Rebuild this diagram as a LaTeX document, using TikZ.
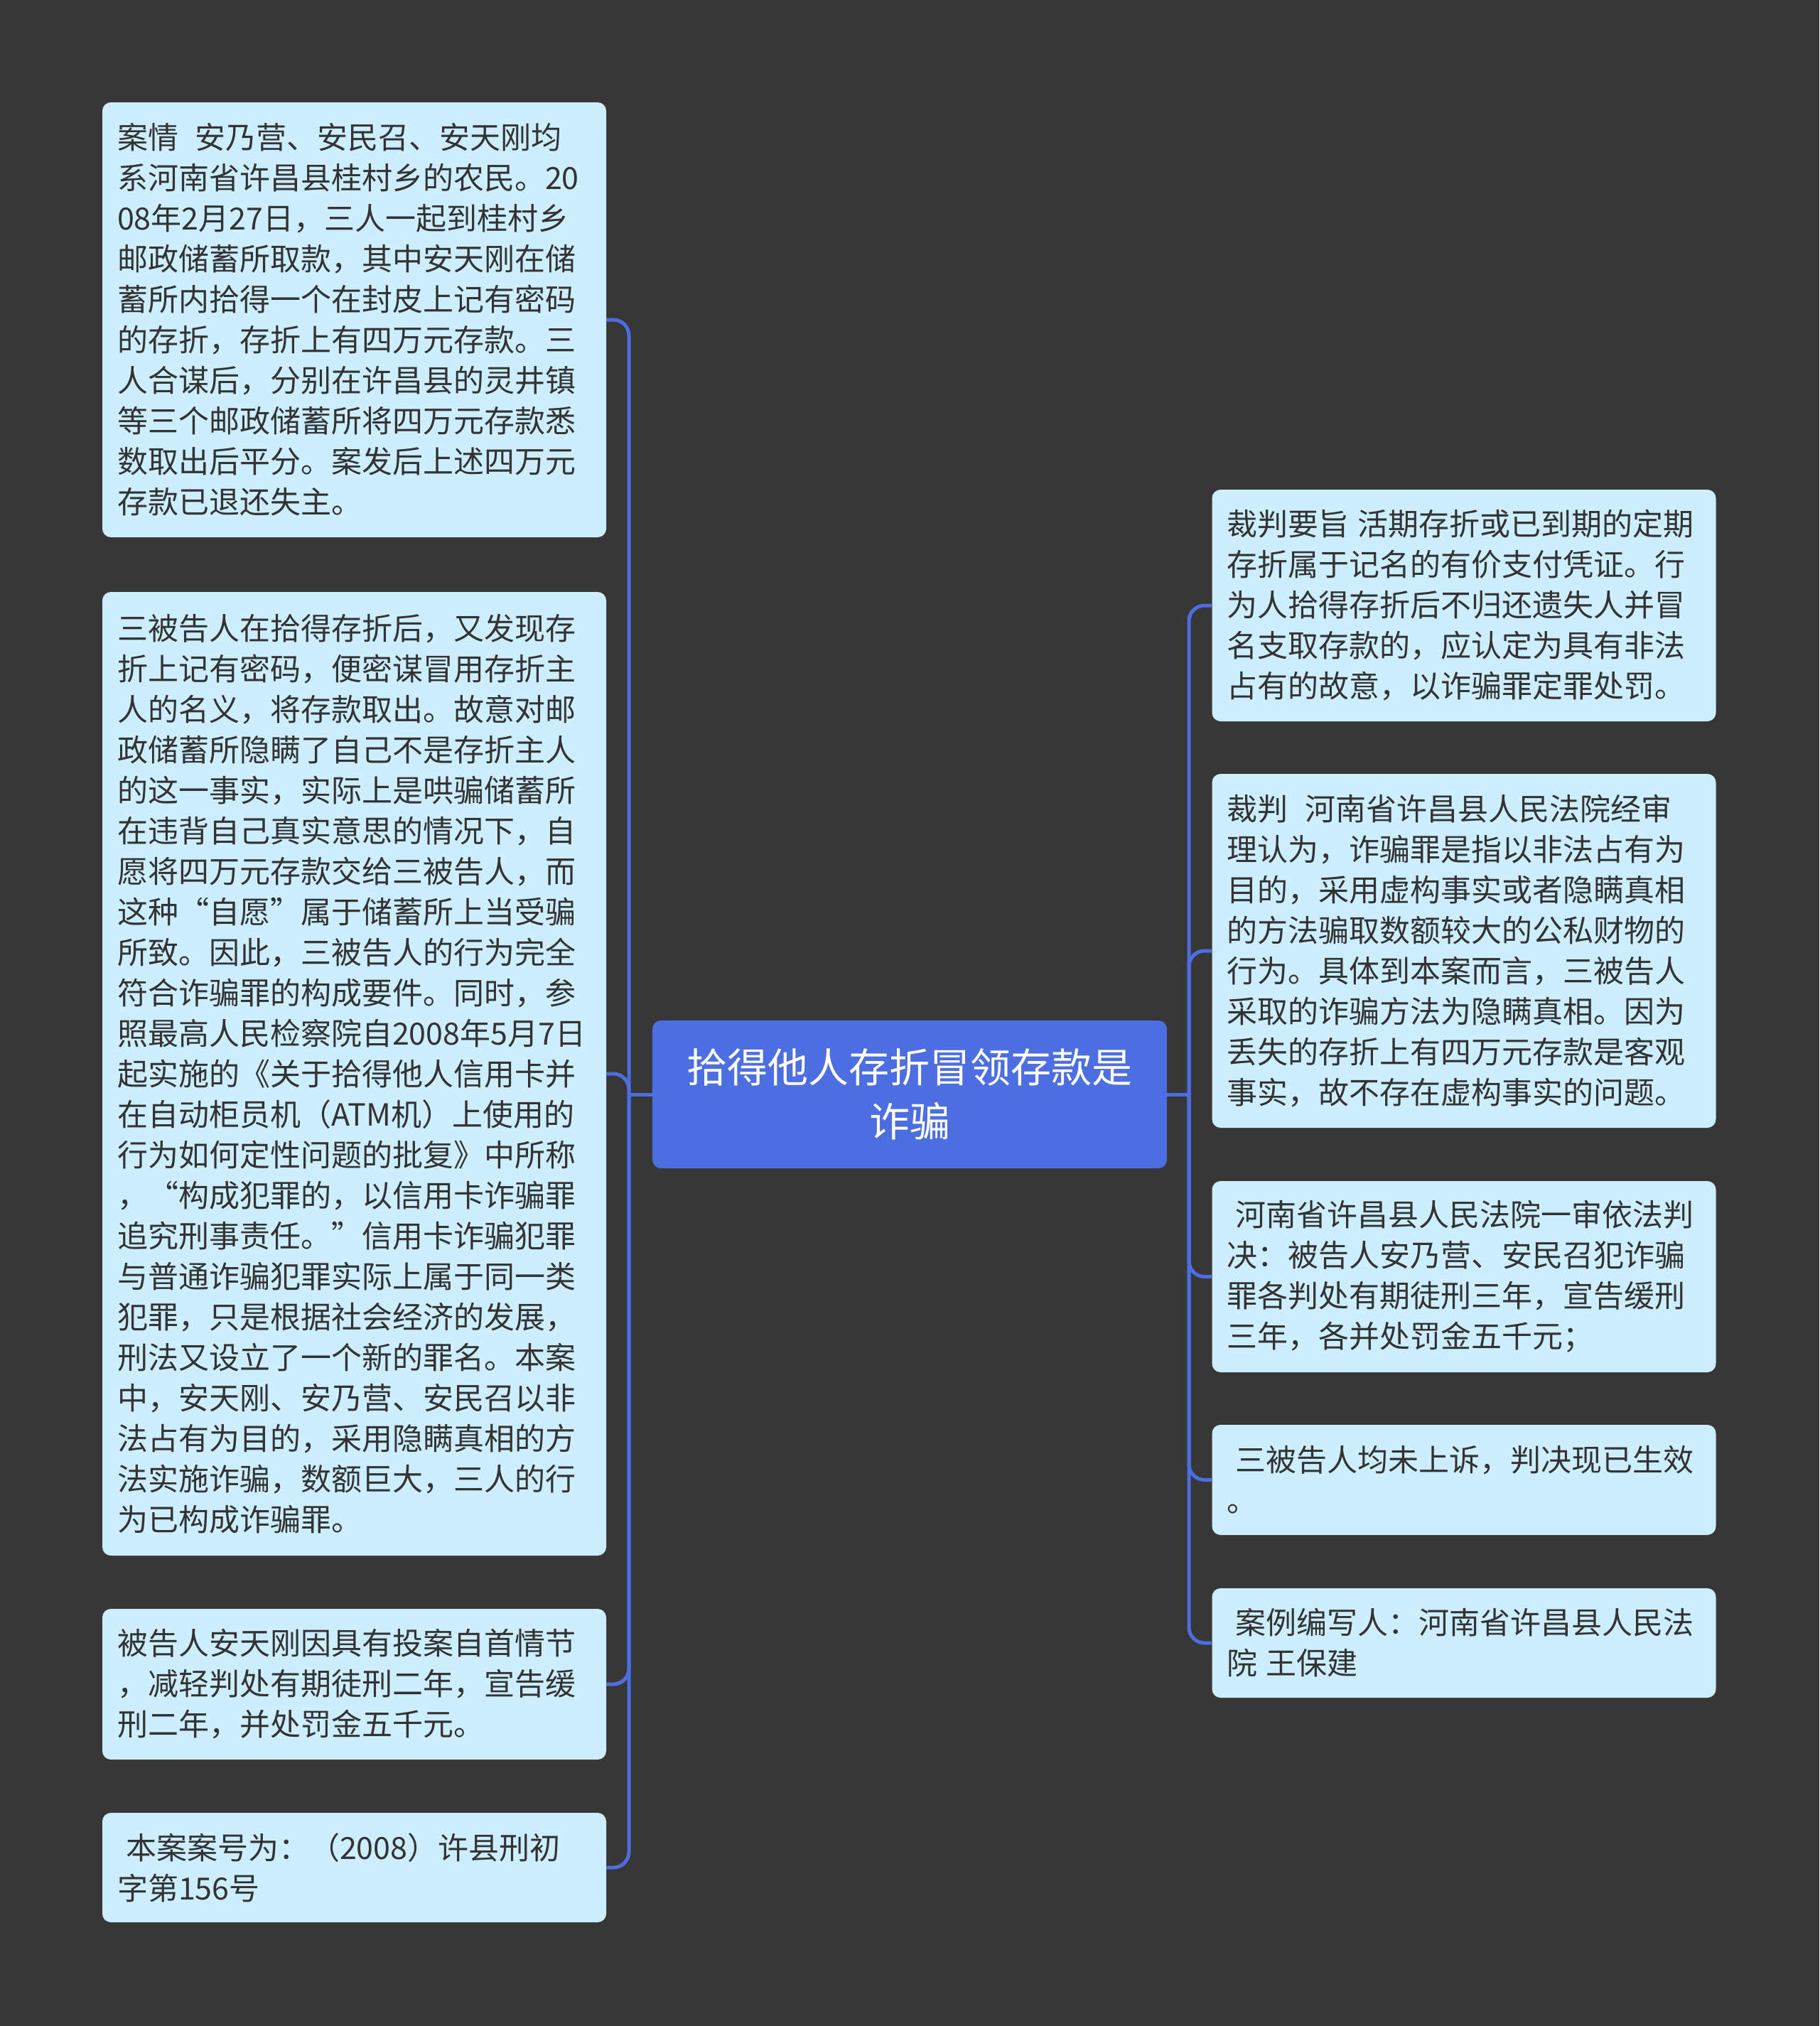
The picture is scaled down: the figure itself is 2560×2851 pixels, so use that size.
\documentclass[tikz,border=0pt]{standalone}
\usepackage{fontspec}
\setmainfont{Noto Sans CJK SC}
\definecolor{bg}{HTML}{383738}
\definecolor{boxfill}{HTML}{CCEEFF}
\definecolor{txt}{HTML}{333333}
\definecolor{mainblue}{HTML}{4C6EE0}
\tikzset{
  leaf/.style={fill=boxfill, rounded corners=12pt, text=txt, align=left,
    minimum width=709pt, text width=667pt, inner xsep=21pt, inner ysep=0pt,
    font=\fontsize{43pt}{57pt}\selectfont},
  root/.style={fill=mainblue, rounded corners=12pt, text=white, align=center,
    minimum width=724pt, minimum height=208pt, inner sep=0pt,
    font=\fontsize{57pt}{76pt}\selectfont},
  conn/.style={draw=mainblue, line width=5pt, rounded corners=22pt}
}
\begin{document}
\begin{tikzpicture}[x=1pt,y=-1pt]
\fill[bg] (0,0) rectangle (2560,2851);
\useasboundingbox (0,0) rectangle (2560,2851);

\node[root] (c) at (1280,1540) {拾得他人存折冒领存款是\\诈骗};

% left side
\node[leaf, minimum height=612pt] (l1) at (498.5,450) {案情\hspace{24pt}安乃营、安民召、安天刚均\\
系河南省许昌县桂村乡的农民。20\\
08年2月27日，三人一起到桂村乡\\
邮政储蓄所取款，其中安天刚在储\\
蓄所内拾得一个在封皮上记有密码\\
的存折，存折上有四万元存款。三\\
人合谋后，分别在许昌县的灵井镇\\
等三个邮政储蓄所将四万元存款悉\\
数取出后平分。案发后上述四万元\\
存款已退还失主。};

\node[leaf, minimum height=1356pt] (l2) at (498.5,1511) {三被告人在拾得存折后，又发现存\\
折上记有密码，便密谋冒用存折主\\
人的名义，将存款取出。故意对邮\\
政储蓄所隐瞒了自己不是存折主人\\
的这一事实，实际上是哄骗储蓄所\\
在违背自己真实意思的情况下，自\\
愿将四万元存款交给三被告人，而\\
这种“自愿”属于储蓄所上当受骗\\
所致。因此，三被告人的行为完全\\
符合诈骗罪的构成要件。同时，参\\
照最高人民检察院自2008年5月7日\\
起实施的《关于拾得他人信用卡并\\
在自动柜员机（ATM机）上使用的\\
行为如何定性问题的批复》中所称\\
，“构成犯罪的，以信用卡诈骗罪\\
追究刑事责任。”信用卡诈骗犯罪\\
与普通诈骗犯罪实际上属于同一类\\
犯罪，只是根据社会经济的发展，\\
刑法又设立了一个新的罪名。本案\\
中，安天刚、安乃营、安民召以非\\
法占有为目的，采用隐瞒真相的方\\
法实施诈骗，数额巨大，三人的行\\
为已构成诈骗罪。};

\node[leaf, minimum height=212pt] (l3) at (498.5,2370) {被告人安天刚因具有投案自首情节\\
，减轻判处有期徒刑二年，宣告缓\\
刑二年，并处罚金五千元。};

\node[leaf, minimum height=154pt] (l4) at (498.5,2628) {\hspace*{12pt}本案案号为：（2008）许县刑初\\
字第156号};

% right side
\node[leaf, minimum height=326pt] (r1) at (2060,852) {裁判要旨\hspace{12pt}活期存折或已到期的定期\\
存折属于记名的有价支付凭证。行\\
为人拾得存折后不归还遗失人并冒\\
名支取存款的，应认定为具有非法\\
占有的故意，以诈骗罪定罪处罚。};

\node[leaf, minimum height=498pt] (r2) at (2060,1338) {裁判\hspace{24pt}河南省许昌县人民法院经审\\
理认为，诈骗罪是指以非法占有为\\
目的，采用虚构事实或者隐瞒真相\\
的方法骗取数额较大的公私财物的\\
行为。具体到本案而言，三被告人\\
采取的诈骗方法为隐瞒真相。因为\\
丢失的存折上有四万元存款是客观\\
事实，故不存在虚构事实的问题。};

\node[leaf, minimum height=269pt] (r3) at (2060,1796.5) {\hspace*{12pt}河南省许昌县人民法院一审依法判\\
决：被告人安乃营、安民召犯诈骗\\
罪各判处有期徒刑三年，宣告缓刑\\
三年，各并处罚金五千元；};

\node[leaf, minimum height=155pt] (r4) at (2060,2082.5) {\hspace*{12pt}三被告人均未上诉，判决现已生效\\
。};

\node[leaf, minimum height=154pt] (r5) at (2060,2312) {\hspace*{12pt}案例编写人：河南省许昌县人民法\\
院\hspace{12pt}王保建};

% connectors
\coordinate (lj) at (885,1540);
\coordinate (rj) at (1673,1540);
\draw[conn] (c.west) -- (lj);
\draw[conn] (c.east) -- (rj);
\foreach \n in {l1,l2,l3,l4} \draw[conn] (lj) |- (\n.east);
\foreach \n in {r1,r2,r3,r4,r5} \draw[conn] (rj) |- (\n.west);
\end{tikzpicture}
\end{document}
